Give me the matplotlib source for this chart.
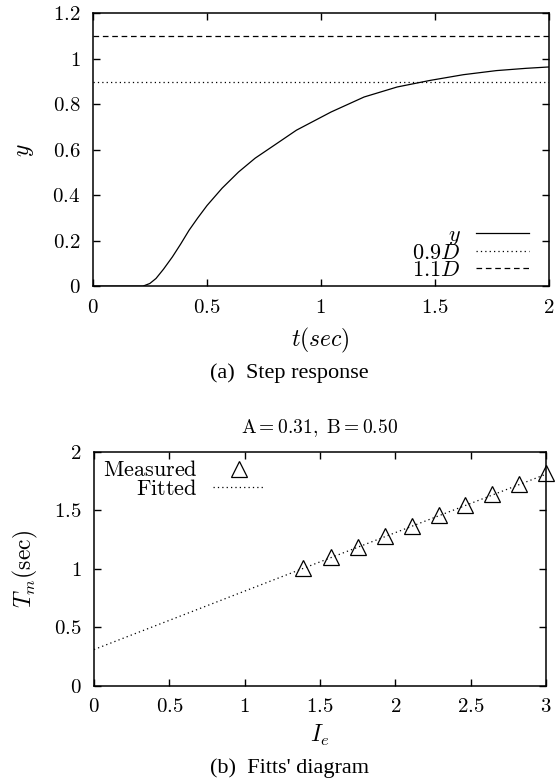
import numpy as np
import matplotlib
matplotlib.use("Agg")
import matplotlib.pyplot as plt

plt.rcParams["mathtext.fontset"] = "cm"
plt.rcParams["font.family"] = ["Liberation Serif", "DejaVu Serif"]

# step response
t_step = [0.0, 0.219, 0.25, 0.277, 0.31, 0.349, 0.385, 0.422, 0.46, 0.501, 0.567,
          0.639, 0.712, 0.799, 0.893, 1.045, 1.19, 1.335, 1.48, 1.625, 1.77, 1.9, 2.0]
y_step = [0.0, 0.0, 0.012, 0.034, 0.075, 0.129, 0.185, 0.246, 0.30, 0.355, 0.431,
          0.502, 0.563, 0.622, 0.686, 0.766, 0.832, 0.876, 0.905, 0.930, 0.948, 0.958, 0.964]
D_low = 0.9
D_high = 1.1

# Fitts' diagram
I_meas = [1.39, 1.57, 1.75, 1.93, 2.11, 2.29, 2.46, 2.64, 2.82, 3.0]
T_meas = [1.01, 1.10, 1.19, 1.28, 1.37, 1.46, 1.55, 1.64, 1.73, 1.82]
I_fit = [0.0, 3.0]
T_fit = [0.31, 1.81]
fit_title = r"$\mathrm{A{=}0.31,\ B{=}0.50}$"


def math_ticks(ax, xt, yt):
    ax.set_xticks(xt)
    ax.set_yticks(yt)
    ax.set_xticklabels(["$%g$" % v for v in xt])
    ax.set_yticklabels(["$%g$" % v for v in yt])
    ax.tick_params(direction="in", top=True, right=True, length=5, width=1,
                   labelsize=15, pad=9)
    for s in ax.spines.values():
        s.set_linewidth(1.1)


fig = plt.figure(figsize=(5.56, 7.82), dpi=100)

ax1 = fig.add_axes([0.167, 0.634, 0.820, 0.349])
ax1.plot(t_step, y_step, color="black", lw=0.9, label="$y$")
ax1.axhline(D_low, color="black", lw=0.9, ls=(0, (1, 2.5)), label="$0.9D$")
ax1.axhline(D_high, color="black", lw=0.9, ls=(0, (4.5, 3)), label="$1.1D$")
ax1.set_xlim(0, 2)
ax1.set_ylim(0, 1.2)
math_ticks(ax1, [0, 0.5, 1, 1.5, 2], [0, 0.2, 0.4, 0.6, 0.8, 1, 1.2])
ax1.set_xlabel("$t(sec)$", fontsize=17, labelpad=6)
ax1.set_ylabel("$y$", fontsize=17, labelpad=12)
ax1.legend(loc="lower right", frameon=False, markerfirst=False, fontsize=16,
           handlelength=2.4, labelspacing=-0.15, borderaxespad=0.0,
           borderpad=0.05, handletextpad=0.7, bbox_to_anchor=(0.96, 0.015))
fig.text(0.52, 0.523, "(a)  Step response", ha="center", va="center", fontsize=16)

ax2 = fig.add_axes([0.169, 0.123, 0.813, 0.299])
ax2.plot(I_fit, T_fit, color="black", lw=0.9, ls=(0, (1, 2.5)), label="Fitted")
ax2.plot(I_meas, T_meas, ls="none", marker="^", markersize=11, mfc="none",
         mec="black", mew=0.9, label="Measured", clip_on=False)
ax2.set_xlim(0, 3)
ax2.set_ylim(0, 2)
math_ticks(ax2, [0, 0.5, 1, 1.5, 2, 2.5, 3], [0, 0.5, 1, 1.5, 2])
ax2.set_xlabel("$I_e$", fontsize=17, labelpad=4)
ax2.set_ylabel(r"$T_m(\mathrm{sec})$", fontsize=17, labelpad=10)
ax2.set_title(fit_title, fontsize=14, pad=14)
h, l = ax2.get_legend_handles_labels()
ax2.legend([h[1], h[0]], [r"$\mathrm{Measured}$", r"$\mathrm{Fitted}$"],
           loc="upper left", frameon=False, markerfirst=False, fontsize=16,
           handlelength=2.3, labelspacing=-0.1, borderaxespad=0.3,
           borderpad=0.1, handletextpad=0.7)
fig.text(0.52, 0.018, "(b)  Fitts' diagram", ha="center", va="center", fontsize=16)

fig.savefig("out.png", dpi=100)
